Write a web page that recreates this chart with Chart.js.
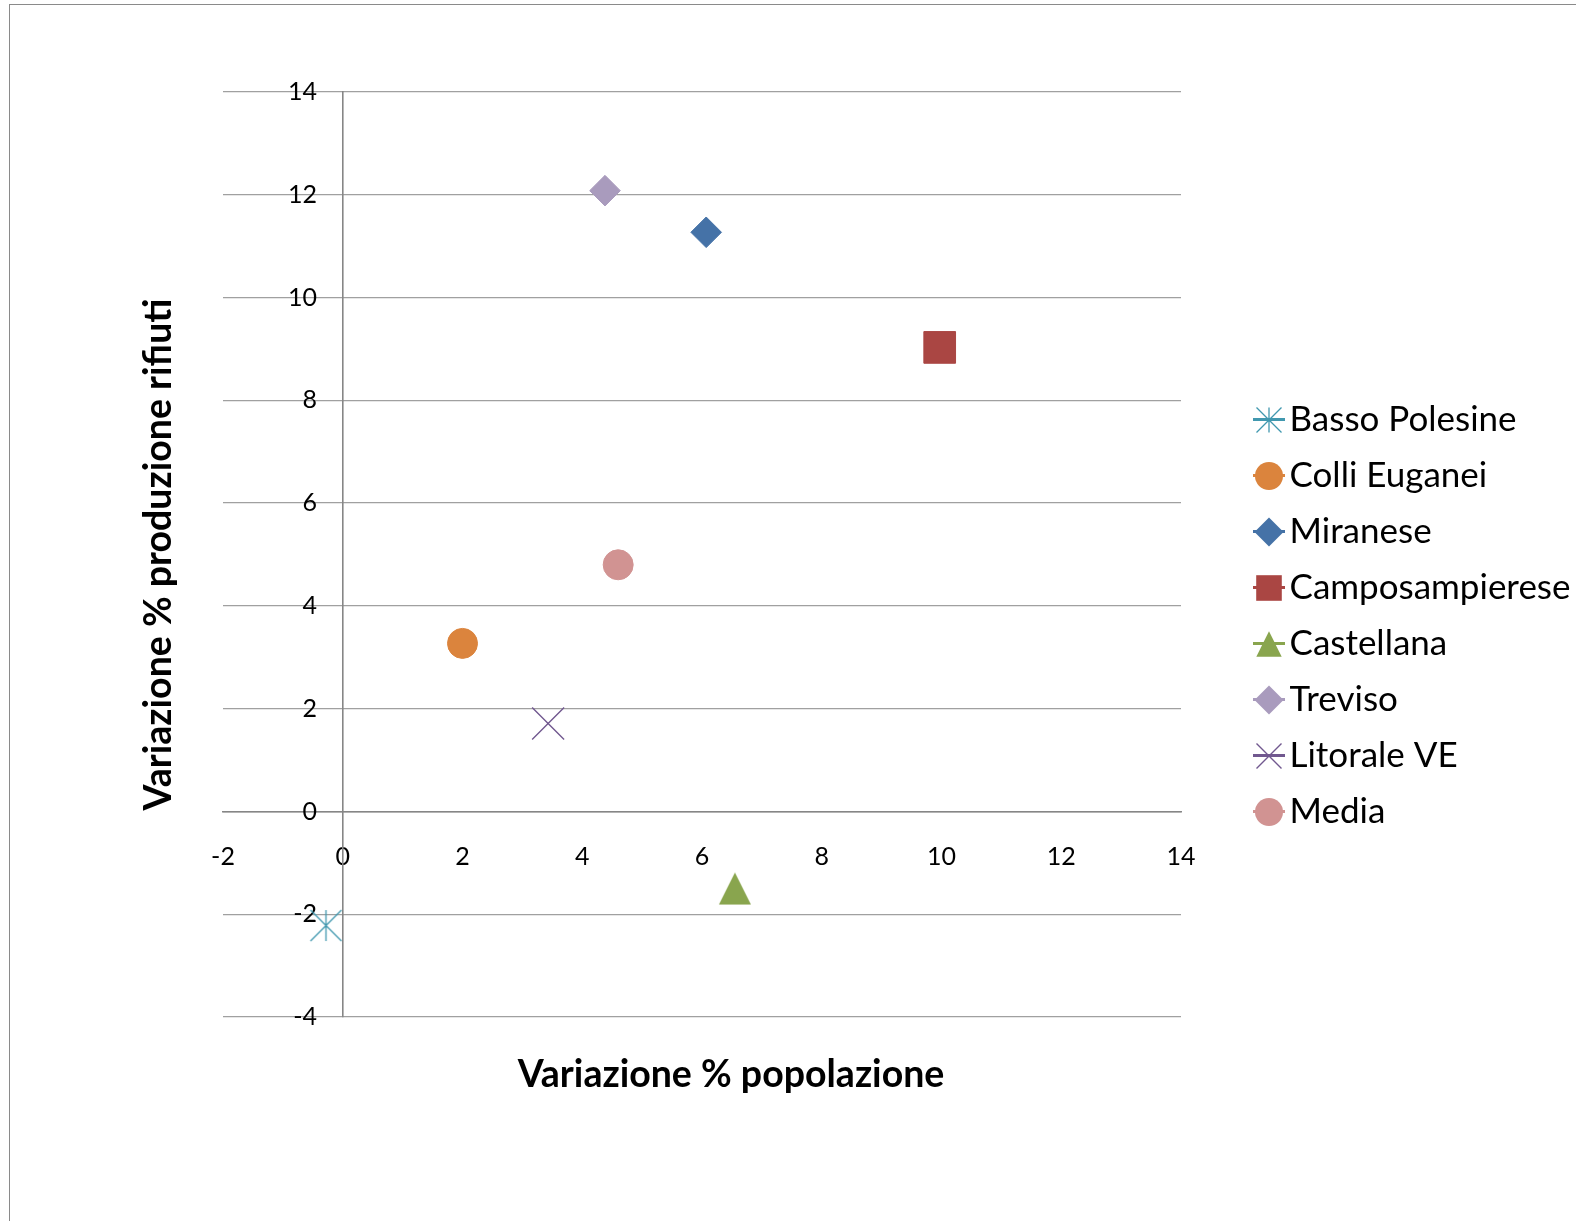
<!DOCTYPE html>
<html>
<head>
<meta charset="utf-8">
<title>Variazione % popolazione / produzione rifiuti</title>
<script src="https://cdn.jsdelivr.net/npm/chart.js@4.4.1/dist/chart.umd.min.js"></script>
<style>
  html, body { margin: 0; padding: 0; background: #fff; overflow: hidden; }
  #wrap { position: relative; width: 1576px; height: 1221px; }
  #c { position: absolute; left: 0; top: 0; }
  #frame {
    position: absolute; left: 9px; top: 4px; width: 1700px; height: 1400px;
    border: 1px solid #8a8a8a; pointer-events: none;
  }
</style>
</head>
<body>
<div id="wrap">
  <canvas id="c" width="1576" height="1221"></canvas>
  <div id="frame"></div>
</div>
<script>
// ---- data -------------------------------------------------------------
const seriesNames  = ['Basso Polesine', 'Colli Euganei', 'Miranese', 'Camposampierese',
                      'Castellana', 'Treviso', 'Litorale VE', 'Media'];
const popChange    = [-0.28, 2.0, 6.07, 9.97, 6.55, 4.38, 3.43, 4.6];   // Variazione % popolazione
const wasteChange  = [-2.22, 3.27, 11.27, 9.03, -1.5, 12.08, 1.71, 4.8]; // Variazione % produzione rifiuti
const xTickValues  = [-2, 0, 2, 4, 6, 8, 10, 12, 14];
const yTickValues  = [-4, -2, 0, 2, 4, 6, 8, 10, 12, 14];
const xAxisTitle   = 'Variazione % popolazione';
const yAxisTitle   = 'Variazione % produzione rifiuti';

// ---- styles -----------------------------------------------------------
const seriesColors = ['#4198AF', '#DB843D', '#4572A7', '#AA4643', '#89A54E', '#A99BBD', '#71588F', '#D19392'];
const markerShapes = ['asterisk', 'circle', 'diamond', 'square', 'triangle', 'diamond', 'x', 'circle'];

const FONT = 'Lato';
Chart.defaults.font.family = FONT;
Chart.defaults.color = '#000';

const AXIS_LINE = '#868686';
const GRID_LINE = '#a0a0a0';

// Paint one marker shape centred at (cx, cy); r is the half-extent.
function drawShape(ctx, shape, cx, cy, r, color) {
  ctx.fillStyle = color;
  ctx.strokeStyle = color;
  ctx.beginPath();
  switch (shape) {
    case 'asterisk':
      ctx.lineWidth = 1.3;
      ctx.moveTo(cx, cy - r); ctx.lineTo(cx, cy + r);
      ctx.moveTo(cx - r, cy - r); ctx.lineTo(cx + r, cy + r);
      ctx.moveTo(cx + r, cy - r); ctx.lineTo(cx - r, cy + r);
      ctx.stroke();
      break;
    case 'x':
      ctx.lineWidth = 1.4;
      ctx.moveTo(cx - r, cy - r); ctx.lineTo(cx + r, cy + r);
      ctx.moveTo(cx + r, cy - r); ctx.lineTo(cx - r, cy + r);
      ctx.stroke();
      break;
    case 'circle':
      ctx.arc(cx, cy, r, 0, Math.PI * 2);
      ctx.fill();
      break;
    case 'diamond':
      ctx.moveTo(cx, cy - r); ctx.lineTo(cx + r, cy);
      ctx.lineTo(cx, cy + r); ctx.lineTo(cx - r, cy);
      ctx.closePath(); ctx.fill();
      break;
    case 'square':
      ctx.rect(cx - r, cy - r, 2 * r, 2 * r);
      ctx.fill();
      break;
    case 'triangle':
      ctx.moveTo(cx, cy - r); ctx.lineTo(cx + r, cy + r); ctx.lineTo(cx - r, cy + r);
      ctx.closePath(); ctx.fill();
      break;
  }
}

function makeCanvas(w, h) {
  const cv = document.createElement('canvas');
  cv.width = w; cv.height = h;
  return cv;
}

// Marker image for shapes Chart.js has no exact built-in for.
function plotMarkerImage(shape, color, r) {
  const size = Math.ceil(2 * r + 4);
  const cv = makeCanvas(size, size);
  drawShape(cv.getContext('2d'), shape, size / 2, size / 2, r, color);
  return cv;
}

// Legend key: short line with the marker on top, placed at the right end of the image.
const LEGEND_ICON_W = 96, LEGEND_ICON_H = 36, LEGEND_LINE_LEN = 32;
const legendMarkerSize = { asterisk: 12.5, circle: 14, diamond: 14.5, square: 12.8, triangle: 12.7, x: 12.5 };
function legendIcon(shape, color) {
  const cv = makeCanvas(LEGEND_ICON_W, LEGEND_ICON_H);
  const ctx = cv.getContext('2d');
  ctx.fillStyle = color;
  ctx.fillRect(LEGEND_ICON_W - LEGEND_LINE_LEN, LEGEND_ICON_H / 2 - 2, LEGEND_LINE_LEN, 3);
  drawShape(ctx, shape, LEGEND_ICON_W - LEGEND_LINE_LEN / 2, LEGEND_ICON_H / 2, legendMarkerSize[shape], color);
  return cv;
}

// Point options per marker shape.
function pointOptions(shape, color) {
  switch (shape) {
    case 'asterisk': return { pointStyle: plotMarkerImage('asterisk', color, 15.5), pointRadius: 16 };
    case 'triangle': return { pointStyle: plotMarkerImage('triangle', color, 16), pointRadius: 16 };
    case 'circle':   return { pointStyle: 'circle', pointRadius: 15, pointBorderWidth: 1 };
    case 'diamond':  return { pointStyle: 'rectRot', pointRadius: 15.3, pointBorderWidth: 1 };
    case 'square':   return { pointStyle: 'rect', pointRadius: 22.4, pointBorderWidth: 1 };
    case 'x':        return { pointStyle: 'crossRot', pointRadius: 22.6, pointBorderWidth: 1.4 };
  }
}

const datasets = seriesNames.map((name, i) => Object.assign({
  label: name,
  data: [{ x: popChange[i], y: wasteChange[i] }],
  xAxisID: 'x',
  yAxisID: 'y',
  showLine: false,
  backgroundColor: seriesColors[i],
  borderColor: seriesColors[i],
  pointBackgroundColor: seriesColors[i],
  pointBorderColor: seriesColors[i],
}, pointOptions(markerShapes[i], seriesColors[i])));

const legendIcons = markerShapes.map((s, i) => legendIcon(s, seriesColors[i]));

const useTicks = values => scale => { scale.ticks = values.map(v => ({ value: v })); };

// The x-axis title sits a little right of the plot-area centre line.
const axisTitleOffset = {
  id: 'axisTitleOffset',
  afterLayout(chart) {
    const xt = chart.scales.xTitle;
    xt.left += 29; xt.right += 29;
  }
};

const tickFont = { family: FONT, size: 25 };
const titleFont = { family: FONT, size: 37.5, weight: 'bold' };

new Chart(document.getElementById('c'), {
  type: 'scatter',
  data: { datasets },
  options: {
    responsive: false,
    animation: false,
    devicePixelRatio: 1,
    layout: { padding: { left: 40, top: 92, right: 0, bottom: 81 } },
    scales: {
      x: {
        type: 'linear', axis: 'x',
        position: { y: 0 },
        min: xTickValues[0], max: xTickValues[xTickValues.length - 1],
        afterBuildTicks: useTicks(xTickValues),
        grid: { display: false, drawTicks: false },
        border: { display: true, color: AXIS_LINE, width: 1.6 },
        ticks: { padding: 30, color: '#000', font: tickFont, maxRotation: 0 }
      },
      y: {
        type: 'linear', axis: 'y',
        position: { x: 0 },
        min: yTickValues[0], max: yTickValues[yTickValues.length - 1],
        afterBuildTicks: useTicks(yTickValues),
        grid: {
          drawTicks: false,
          lineWidth: 1.3,
          color: c => (c.tick && c.tick.value === 0) ? AXIS_LINE : GRID_LINE
        },
        border: { display: true, color: AXIS_LINE, width: 1.6 },
        ticks: { display: false }
      },
      // value labels of the vertical axis, set slightly left of the axis line
      yTicks: {
        type: 'linear', axis: 'y',
        position: { x: -0.43 },
        min: yTickValues[0], max: yTickValues[yTickValues.length - 1],
        afterBuildTicks: useTicks(yTickValues),
        grid: { display: false, drawTicks: false },
        border: { display: false },
        ticks: { color: '#000', font: tickFont, padding: 0 }
      },
      xTitle: {
        type: 'linear', axis: 'x', position: 'bottom', min: 0, max: 1,
        grid: { display: false, drawTicks: false },
        border: { display: false },
        ticks: { display: false },
        title: { display: true, text: xAxisTitle, color: '#000', font: titleFont,
                 padding: { top: 35.5, bottom: 42.5 } }
      },
      yTitle: {
        type: 'linear', axis: 'y', position: 'left', min: 0, max: 1,
        grid: { display: false, drawTicks: false },
        border: { display: false },
        ticks: { display: false },
        title: { display: true, text: yAxisTitle, color: '#000', font: titleFont,
                 padding: { top: 96, bottom: 42 } }
      }
    },
    plugins: {
      tooltip: { enabled: false },
      legend: {
        position: 'right',
        align: 'center',
        maxWidth: 395,
        labels: {
          usePointStyle: true,
          pointStyleWidth: 70,
          padding: 21,
          color: '#000',
          font: { family: FONT, size: 35 },
          generateLabels: chart => chart.data.datasets.map((ds, i) => ({
            text: ds.label,
            datasetIndex: i,
            pointStyle: legendIcons[i],
            fillStyle: ds.backgroundColor,
            strokeStyle: ds.borderColor,
            lineWidth: 0,
            hidden: !chart.isDatasetVisible(i),
            fontColor: '#000'
          }))
        }
      }
    }
  },
  plugins: [axisTitleOffset]
});
</script>
</body>
</html>
